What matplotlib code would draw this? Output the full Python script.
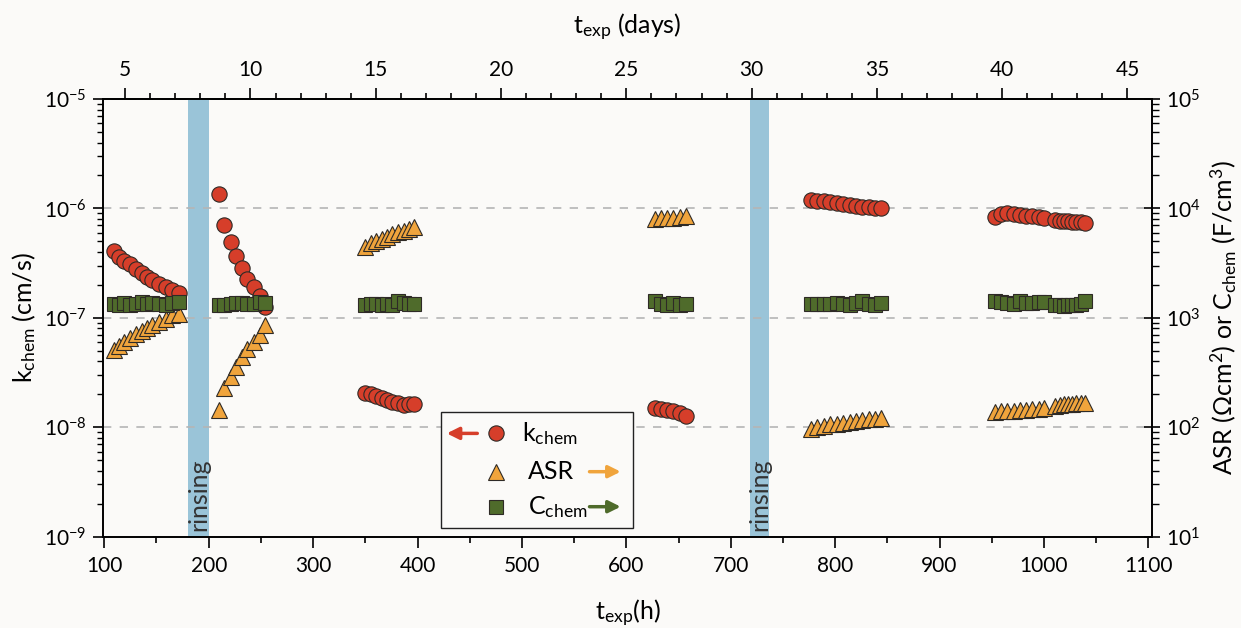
import matplotlib.pyplot as plt
from matplotlib.ticker import LogLocator, FixedLocator, MultipleLocator, NullFormatter
from matplotlib.patches import Rectangle
import matplotlib.transforms as mtransforms

plt.rcParams['font.family'] = ['Lato', 'DejaVu Sans']
plt.rcParams['mathtext.fontset'] = 'custom'
plt.rcParams['mathtext.rm'] = 'Lato'
plt.rcParams['mathtext.it'] = 'Lato:italic'
plt.rcParams['mathtext.bf'] = 'Lato:bold'

# measurement time (h) for each block of points
t1 = [109, 114, 119, 125, 130, 136, 141, 146, 152, 159, 165, 172]
t2 = [210, 215, 221, 226, 232, 237, 243, 249, 254]
t3 = [350, 355, 360, 366, 371, 376, 381, 387, 392, 397]
t4 = [627, 633, 639, 645, 651, 657]
t5 = [777, 783, 789, 795, 802, 808, 814, 820, 826, 832, 838, 844]
t6 = [953, 959, 965, 971, 977, 983, 989, 995, 1000]
t7 = [1011, 1015, 1019, 1023, 1027, 1031, 1035, 1039]

# k_chem (cm/s)
k1 = [4.08e-7, 3.57e-7, 3.33e-7, 3.08e-7, 2.77e-7, 2.55e-7, 2.37e-7, 2.22e-7, 2.04e-7, 1.90e-7, 1.80e-7, 1.70e-7]
k2 = [1.35e-6, 7.05e-7, 4.90e-7, 3.67e-7, 2.83e-7, 2.25e-7, 1.90e-7, 1.58e-7, 1.26e-7]
k3 = [2.06e-8, 2.00e-8, 1.93e-8, 1.86e-8, 1.78e-8, 1.71e-8, 1.65e-8, 1.61e-8, 1.62e-8, 1.63e-8]
k4 = [1.49e-8, 1.47e-8, 1.45e-8, 1.42e-8, 1.36e-8, 1.27e-8]
k5 = [1.19e-6, 1.18e-6, 1.17e-6, 1.15e-6, 1.12e-6, 1.09e-6, 1.07e-6, 1.05e-6, 1.04e-6, 1.02e-6, 1.01e-6, 1.00e-6]
k6 = [8.4e-7, 8.95e-7, 9.0e-7, 8.8e-7, 8.7e-7, 8.6e-7, 8.5e-7, 8.4e-7, 8.2e-7]
k7 = [7.8e-7, 7.7e-7, 7.65e-7, 7.6e-7, 7.55e-7, 7.5e-7, 7.45e-7, 7.35e-7]

# ASR (Ohm cm2)
asr1 = [508, 552, 601, 654, 707, 757, 814, 867, 916, 984, 1055, 1080]
asr2 = [144, 227, 286, 357, 441, 519, 605, 697, 859]
asr3 = [4450, 4780, 4990, 5300, 5480, 5800, 6050, 6200, 6550, 6800]
asr4 = [7950, 8100, 8150, 8250, 8300, 8450]
asr5 = [96, 100, 103, 106, 108, 110, 112, 114, 116, 118, 119, 121]
asr6 = [138, 140, 141, 142, 144, 145, 147, 148, 150]
asr7 = [158, 160, 162, 163, 164, 165, 166, 168]

# C_chem (F/cm3)
c1 = [1340, 1320, 1360, 1300, 1330, 1390, 1350, 1380, 1330, 1310, 1360, 1400]
c2 = [1300, 1310, 1330, 1360, 1380, 1350, 1330, 1390, 1370]
c3 = [1320, 1330, 1350, 1310, 1340, 1300, 1420, 1380, 1330, 1330]
c4 = [1420, 1350, 1300, 1380, 1310, 1350]
c5 = [1340, 1330, 1350, 1340, 1360, 1330, 1310, 1380, 1420, 1330, 1310, 1360]
c6 = [1420, 1400, 1380, 1350, 1420, 1380, 1360, 1400, 1390]
c7 = [1310, 1300, 1290, 1310, 1300, 1320, 1330, 1420]

times = [t1, t2, t3, t4, t5, t6, t7]
k_all = [k1, k2, k3, k4, k5, k6, k7]
asr_all = [asr1, asr2, asr3, asr4, asr5, asr6, asr7]
c_all = [c1, c2, c3, c4, c5, c6, c7]

rinsing = [(180, 200), (718, 737)]

bg = '#fbfaf8'
red = '#d63e2a'
orange = '#f0a43c'
green = '#4f6b2b'
edge = '#2e2a26'

fig = plt.figure(figsize=(12.41, 6.28), dpi=100, facecolor=bg)
ax = fig.add_axes([0.0832, 0.1454, 0.8451, 0.697])
ax.set_facecolor(bg)
ax2 = ax.twinx()

for a, b in rinsing:
    ax.axvspan(a, b, color='#9ac4d8', zorder=0.5, lw=0)
    trans = mtransforms.blended_transform_factory(ax.transData, ax.transAxes)
    ax.text((a + b) / 2, 0.012, 'rinsing', rotation=90, ha='center', va='bottom',
            fontsize=18, color='#333333', transform=trans, zorder=3)

for t, k in zip(times, k_all):
    ax.plot(t, k, ls='none', marker='o', ms=11, mfc=red, mec=edge, mew=0.8, zorder=4)
for t, r in zip(times, asr_all):
    ax2.plot(t, r, ls='none', marker='^', ms=11, mfc=orange, mec=edge, mew=0.8, zorder=4)
for t, c in zip(times, c_all):
    ax2.plot(t, c, ls='none', marker='s', ms=10, mfc=green, mec=edge, mew=0.8, zorder=5)

ax.set_yscale('log')
ax2.set_yscale('log')
ax.set_ylim(1e-9, 1e-5)
ax2.set_ylim(1e1, 1e5)
ax.set_xlim(99, 1103.5)

ax.yaxis.grid(True, which='major', ls=(0, (5, 5)), color='#b5b5b5', lw=1.2)

ax.xaxis.set_major_locator(MultipleLocator(100))
ax.xaxis.set_minor_locator(MultipleLocator(50))
ax.yaxis.set_major_locator(LogLocator(base=10, numticks=10))
ax.yaxis.set_minor_locator(LogLocator(base=10, subs=range(2, 10), numticks=20))
ax.yaxis.set_minor_formatter(NullFormatter())
ax2.yaxis.set_major_locator(LogLocator(base=10, numticks=10))
ax2.yaxis.set_minor_locator(LogLocator(base=10, subs=range(2, 10), numticks=20))
ax2.yaxis.set_minor_formatter(NullFormatter())

ax.tick_params(axis='x', which='major', direction='out', length=8, width=1.2, labelsize=15, pad=6)
ax.tick_params(axis='x', which='minor', direction='out', length=4, width=1.2)
ax.tick_params(axis='y', which='major', direction='out', length=7, width=1.2, labelsize=15, pad=5)
ax.tick_params(axis='y', which='minor', direction='out', length=4, width=1.0)
ax2.tick_params(axis='y', which='major', direction='inout', length=12, width=1.2, labelsize=15, pad=4)
ax2.tick_params(axis='y', which='minor', direction='out', length=5, width=1.0)

for s in list(ax.spines.values()) + list(ax2.spines.values()):
    s.set_linewidth(1.2)

top = ax.secondary_xaxis('top', functions=(lambda h: h / 24, lambda d: d * 24))
top.xaxis.set_major_locator(FixedLocator([5, 10, 15, 20, 25, 30, 35, 40, 45]))
top.xaxis.set_minor_locator(MultipleLocator(1))
top.tick_params(axis='x', which='major', direction='out', length=8, width=1.2, labelsize=15, pad=6)
top.tick_params(axis='x', which='minor', direction='out', length=4, width=1.2)
top.spines['top'].set_linewidth(1.2)
top.set_xlabel('t$_{\\mathregular{exp}}$ (days)', fontsize=18, labelpad=18)

ax.set_xlabel('t$_{\\mathregular{exp}}$(h)', fontsize=18, labelpad=16)
ax.set_ylabel('k$_{\\mathregular{chem}}$ (cm/s)', fontsize=18, labelpad=4)
ax2.set_ylabel('ASR (Ωcm$^{\\mathregular{2}}$) or C$_{\\mathregular{chem}}$ (F/cm$^{\\mathregular{3}}$)',
               fontsize=18, labelpad=6)

# legend box drawn by hand so the arrows fit inside
ax2.add_patch(Rectangle((0.322, 0.02), 0.183, 0.265, transform=ax2.transAxes,
                        facecolor=bg, edgecolor='#222222', lw=1.0, zorder=6))
rows = [(0.236, 'o', red, 'k$_{\\mathregular{chem}}$', 0.399),
        (0.1485, '^', orange, 'ASR', 0.405),
        (0.0685, 's', green, 'C$_{\\mathregular{chem}}$', 0.405)]
for y, m, col, lab, xt in rows:
    ax2.plot([0.3745], [y], transform=ax2.transAxes, ls='none', marker=m,
             ms=11 if m != 's' else 10, mfc=col, mec=edge, mew=0.8, zorder=7, clip_on=False)
    ax2.text(xt, y, lab, transform=ax2.transAxes, fontsize=18, va='center', ha='left', zorder=7)

ax2.annotate('', xy=(0.3249, 0.236), xytext=(0.3593, 0.236), xycoords='axes fraction',
             arrowprops=dict(arrowstyle='-|>', color=red, lw=2.5, mutation_scale=18), zorder=7)
ax2.annotate('', xy=(0.496, 0.1485), xytext=(0.461, 0.1485), xycoords='axes fraction',
             arrowprops=dict(arrowstyle='-|>', color=orange, lw=2.5, mutation_scale=18), zorder=7)
ax2.annotate('', xy=(0.496, 0.0685), xytext=(0.461, 0.0685), xycoords='axes fraction',
             arrowprops=dict(arrowstyle='-|>', color=green, lw=2.5, mutation_scale=18), zorder=7)

plt.savefig('out.png', dpi=100, facecolor=bg)
